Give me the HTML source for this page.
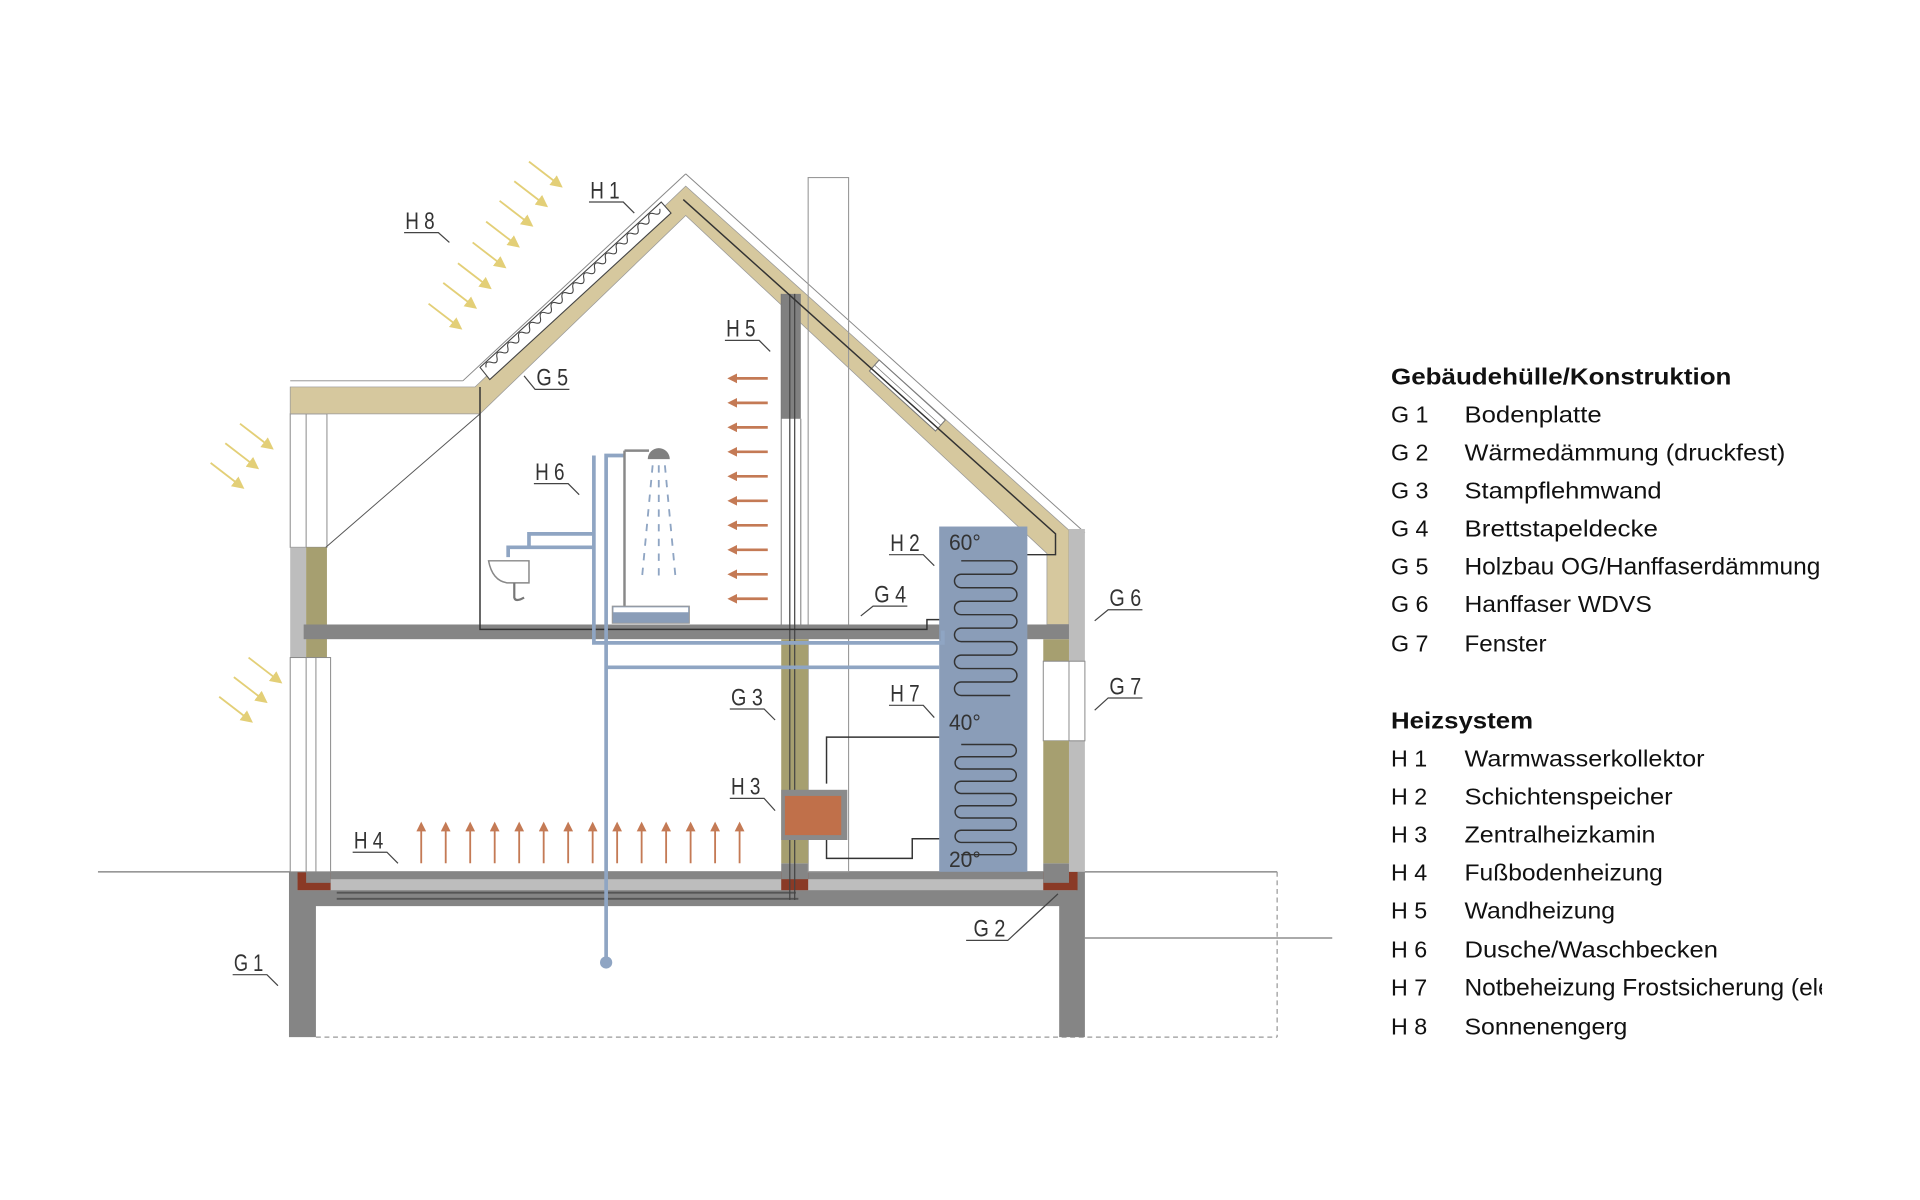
<!DOCTYPE html>
<html><head><meta charset="utf-8"><style>html,body{margin:0;padding:0;background:#fff}svg{display:block}</style></head><body>
<svg width="1920" height="1200" viewBox="0 0 1568 980" xmlns="http://www.w3.org/2000/svg">
<defs>
<clipPath id="lg"><rect x="1100" y="280" width="388" height="600"/></clipPath>
<marker id="ao" markerWidth="8" markerHeight="8" refX="2" refY="4" orient="auto" markerUnits="userSpaceOnUse"><path d="M0,0 L8,4 L0,8 z" fill="#c47a55"/></marker>
<marker id="ay" markerWidth="10" markerHeight="10" refX="8" refY="5" orient="auto" markerUnits="userSpaceOnUse"><path d="M0,0 L10,5 L0,10 z" fill="#e3cf77"/></marker>
</defs>

<line x1="80" y1="712" x2="1043" y2="712" stroke="#777" stroke-width="1"/>
<line x1="1043" y1="712" x2="1043" y2="847" stroke="#999" stroke-width="1" stroke-dasharray="4,3"/>
<line x1="258" y1="847" x2="1043" y2="847" stroke="#999" stroke-width="1" stroke-dasharray="4,3"/>
<line x1="886" y1="766" x2="1088" y2="766" stroke="#777" stroke-width="1"/>

<path d="M236,712 H886 V847 H865 V740 H258 V847 H236 Z" fill="#858585"/>
<rect x="243" y="718" width="636" height="9" fill="#bdbdbd"/>
<rect x="243" y="712" width="27" height="15" fill="#8a3a26"/>
<rect x="250" y="712" width="20" height="9" fill="#858585"/>
<rect x="638" y="712" width="22" height="15" fill="#8a3a26"/>
<rect x="638" y="705" width="22" height="13" fill="#858585"/>
<rect x="852" y="712" width="28" height="15" fill="#8a3a26"/>
<rect x="852" y="705" width="21" height="16" fill="#858585"/>
<path d="M275,729 H650 M275,734 H652" stroke="#555" stroke-width="1.5" fill="none"/>

<rect x="237" y="338" width="30" height="109" fill="#fff" stroke="#888" stroke-width="0.8"/>
<line x1="250" y1="338" x2="250" y2="447" stroke="#888" stroke-width="0.8"/>
<rect x="237" y="447" width="13" height="90" fill="#bdbdbd"/>
<rect x="250" y="447" width="17" height="90" fill="#a69f70"/>
<rect x="237" y="537" width="33" height="175" fill="#fff" stroke="#888" stroke-width="0.8"/>
<line x1="250" y1="537" x2="250" y2="712" stroke="#888" stroke-width="0.8"/>
<line x1="258" y1="537" x2="258" y2="712" stroke="#888" stroke-width="0.8"/>

<line x1="237" y1="311" x2="378" y2="311" stroke="#888" stroke-width="0.8"/>
<line x1="378" y1="311" x2="560" y2="142" stroke="#888" stroke-width="0.8"/>
<line x1="560" y1="142" x2="886" y2="435" stroke="#888" stroke-width="0.8"/>
<path d="M237,316 H388 L560,152 L873,433 V510 H855 V452 L560,176 L392,338 H237 Z" fill="#d6c89e" stroke="#999" stroke-width="0.6"/>
<line x1="266" y1="447" x2="392" y2="338" stroke="#555" stroke-width="0.8"/>
<!-- right roof window strip -->
<path d="M718,294 L772,343 L764,352 L710,303 Z" fill="#fff" stroke="#777" stroke-width="0.8"/>
<line x1="714" y1="298" x2="768" y2="347" stroke="#777" stroke-width="0.6"/>
<!-- collector -->
<path d="M392,300 L540,165 L548,174 L400,310 Z" fill="#fff" stroke="#444" stroke-width="0.9"/>
<g transform="translate(397,300) rotate(-42.4)">
<path d="M0,0 q3,-5 6,0 t6,0 t6,0 t6,0 t6,0 t6,0 t6,0 t6,0 t6,0 t6,0 t6,0 t6,0 t6,0 t6,0 t6,0 t6,0 t6,0 t6,0 t6,0 t6,0 t6,0 t6,0 t6,0 t6,0 t6,0 t6,0 t6,0 t6,0 t6,0 t6,0 t6,0 t6,0" fill="none" stroke="#444" stroke-width="0.9"/>
</g>

<rect x="873" y="432" width="13" height="280" fill="#bdbdbd"/>
<rect x="852" y="522" width="21" height="18" fill="#a69f70"/>
<rect x="852" y="540" width="34" height="65" fill="#fff" stroke="#888" stroke-width="0.8"/>
<line x1="873" y1="540" x2="873" y2="605" stroke="#888" stroke-width="0.8"/>
<rect x="852" y="605" width="21" height="100" fill="#a69f70"/>

<rect x="660" y="145" width="33" height="567" fill="none" stroke="#999" stroke-width="0.9"/>

<rect x="248" y="510" width="625" height="12" fill="#858585"/>

<rect x="638" y="522" width="22" height="183" fill="#a69f70"/>
<rect x="638" y="240" width="16" height="102" fill="#808080"/>
<line x1="638" y1="240" x2="638" y2="510" stroke="#777" stroke-width="0.8"/>
<line x1="654" y1="342" x2="654" y2="510" stroke="#777" stroke-width="0.8"/>
<path d="M645,240 V735 M649,240 V735" stroke="#444" stroke-width="1" fill="none"/>

<path d="M392,316 V514 H757 V506 H770" stroke="#333" stroke-width="1.2" fill="none"/>
<path d="M558,163 L862,436 V453 H775" stroke="#333" stroke-width="1.2" fill="none"/>
<path d="M675,640 V602 H775" stroke="#333" stroke-width="1.2" fill="none"/>
<path d="M675,686 V701 H745 V685 H775" stroke="#333" stroke-width="1.2" fill="none"/>

<rect x="767" y="430" width="72" height="282" fill="#8a9db8"/>
<path d="M785,458 h40 a5,5 0 0 1 0,11 h-40 a5,5 0 0 0 0,11 h40 a5,5 0 0 1 0,11 h-40 a5,5 0 0 0 0,11 h40 a5,5 0 0 1 0,11 h-40 a5,5 0 0 0 0,11 h40 a5,5 0 0 1 0,11 h-40 a5,5 0 0 0 0,11 h40 a5,5 0 0 1 0,11 h-40 a5,5 0 0 0 0,11 h40" fill="none" stroke="#333" stroke-width="1.2"/>
<path d="M785,608 h40 a5,5 0 0 1 0,10 h-40 a5,5 0 0 0 0,10 h40 a5,5 0 0 1 0,10 h-40 a5,5 0 0 0 0,10 h40 a5,5 0 0 1 0,10 h-40 a5,5 0 0 0 0,10 h40 a5,5 0 0 1 0,10 h-40 a5,5 0 0 0 0,10 h40 a5,5 0 0 1 0,10 h-40" fill="none" stroke="#333" stroke-width="1.2"/>
<g font-family="Liberation Sans, sans-serif" font-size="18" fill="#333">
<text x="775" y="449" textLength="26" lengthAdjust="spacingAndGlyphs">60°</text>
<text x="775" y="596" textLength="26" lengthAdjust="spacingAndGlyphs">40°</text>
<text x="775" y="708" textLength="26" lengthAdjust="spacingAndGlyphs">20°</text>
</g>

<rect x="638" y="645" width="54" height="41" fill="#8a8a8a"/>
<rect x="641" y="650" width="46" height="32" fill="#c0704a"/>

<g stroke="#8fa5c3" stroke-width="3" fill="none">
<path d="M495,785 V372 H510"/>
<path d="M495,545 H767"/>
<path d="M485,372 V525 H770 V515"/>
<path d="M432,447 V436 H485"/>
<path d="M415,455 V447 H485"/>
</g>
<circle cx="495" cy="786" r="5" fill="#8fa5c3"/>
<line x1="510" y1="368" x2="510" y2="495" stroke="#888" stroke-width="2"/>
<line x1="510" y1="368" x2="530" y2="368" stroke="#888" stroke-width="2"/>
<path d="M529,375 a9,9 0 0 1 18,0 z" fill="#808080"/>
<g stroke="#8fa5c3" stroke-width="1.5" stroke-dasharray="6,6">
<line x1="533" y1="380" x2="524" y2="475"/><line x1="538" y1="380" x2="538" y2="475"/><line x1="543" y1="380" x2="552" y2="475"/>
</g>
<rect x="500" y="495" width="63" height="14" fill="#8a9db8" stroke="#999" stroke-width="0.8"/>
<rect x="501" y="496" width="61" height="4" fill="#fff"/>
<path d="M399,458 H432 V476 H414 Q402,474 399,458 Z" fill="#fff" stroke="#888" stroke-width="1.2"/>
<path d="M420,476 V488 Q421,492 428,488" fill="none" stroke="#777" stroke-width="1.8"/>

<g stroke="#c47a55" stroke-width="2.2" marker-end="url(#ao)">
<line x1="627" y1="309" x2="600" y2="309"/><line x1="627" y1="329" x2="600" y2="329"/>
<line x1="627" y1="349" x2="600" y2="349"/><line x1="627" y1="369" x2="600" y2="369"/>
<line x1="627" y1="389" x2="600" y2="389"/><line x1="627" y1="409" x2="600" y2="409"/>
<line x1="627" y1="429" x2="600" y2="429"/><line x1="627" y1="449" x2="600" y2="449"/>
<line x1="627" y1="469" x2="600" y2="469"/><line x1="627" y1="489" x2="600" y2="489"/>
</g>
<g stroke="#c47a55" stroke-width="1.5" marker-end="url(#ao)">
<line x1="344" y1="705" x2="344" y2="677"/><line x1="364" y1="705" x2="364" y2="677"/>
<line x1="384" y1="705" x2="384" y2="677"/><line x1="404" y1="705" x2="404" y2="677"/>
<line x1="424" y1="705" x2="424" y2="677"/><line x1="444" y1="705" x2="444" y2="677"/>
<line x1="464" y1="705" x2="464" y2="677"/><line x1="484" y1="705" x2="484" y2="677"/>
<line x1="504" y1="705" x2="504" y2="677"/><line x1="524" y1="705" x2="524" y2="677"/>
<line x1="544" y1="705" x2="544" y2="677"/><line x1="564" y1="705" x2="564" y2="677"/>
<line x1="584" y1="705" x2="584" y2="677"/><line x1="604" y1="705" x2="604" y2="677"/>
</g>

<g stroke="#e3cf77" stroke-width="1.5" marker-end="url(#ay)">
<line x1="432" y1="132" x2="458" y2="152"/><line x1="420" y1="148" x2="446" y2="168"/>
<line x1="408" y1="164" x2="434" y2="184"/><line x1="397" y1="181" x2="423" y2="201"/>
<line x1="386" y1="198" x2="412" y2="218"/><line x1="374" y1="215" x2="400" y2="235"/>
<line x1="362" y1="231" x2="388" y2="251"/><line x1="350" y1="248" x2="376" y2="268"/>
<line x1="196" y1="346" x2="222" y2="366"/><line x1="184" y1="362" x2="210" y2="382"/>
<line x1="172" y1="378" x2="198" y2="398"/>
<line x1="203" y1="537" x2="229" y2="557"/><line x1="191" y1="553" x2="217" y2="573"/>
<line x1="179" y1="569" x2="205" y2="589"/>
</g>

<g font-family="Liberation Sans, sans-serif" font-size="20" fill="#333">
<text x="331" y="187" textLength="24" lengthAdjust="spacingAndGlyphs">H 8</text>
<text x="482" y="162" textLength="24" lengthAdjust="spacingAndGlyphs">H 1</text>
<text x="593" y="275" textLength="24" lengthAdjust="spacingAndGlyphs">H 5</text>
<text x="438" y="315" textLength="26" lengthAdjust="spacingAndGlyphs">G 5</text>
<text x="437" y="392" textLength="24" lengthAdjust="spacingAndGlyphs">H 6</text>
<text x="727" y="450" textLength="24" lengthAdjust="spacingAndGlyphs">H 2</text>
<text x="714" y="492" textLength="26" lengthAdjust="spacingAndGlyphs">G 4</text>
<text x="906" y="495" textLength="26" lengthAdjust="spacingAndGlyphs">G 6</text>
<text x="906" y="567" textLength="26" lengthAdjust="spacingAndGlyphs">G 7</text>
<text x="597" y="576" textLength="26" lengthAdjust="spacingAndGlyphs">G 3</text>
<text x="727" y="573" textLength="24" lengthAdjust="spacingAndGlyphs">H 7</text>
<text x="597" y="649" textLength="24" lengthAdjust="spacingAndGlyphs">H 3</text>
<text x="289" y="693" textLength="24" lengthAdjust="spacingAndGlyphs">H 4</text>
<text x="795" y="765" textLength="26" lengthAdjust="spacingAndGlyphs">G 2</text>
<text x="191" y="793" textLength="24" lengthAdjust="spacingAndGlyphs">G 1</text>
</g>
<g stroke="#444" stroke-width="1" fill="none">
<path d="M330,190 H358 L367,198"/>
<path d="M481,165 H509 L518,174"/>
<path d="M592,278 H620 L629,287"/>
<path d="M465,318 H437 L428,307"/>
<path d="M436,395 H464 L473,404"/>
<path d="M726,453 H754 L763,462"/>
<path d="M741,495 H713 L703,503"/>
<path d="M933,498 H905 L894,507"/>
<path d="M933,570 H905 L894,580"/>
<path d="M596,579 H624 L633,588"/>
<path d="M726,576 H754 L763,586"/>
<path d="M596,652 H624 L633,662"/>
<path d="M288,696 H316 L325,705"/>
<path d="M789,768 H823 L864,730"/>
<path d="M190,796 H218 L227,805"/>
</g>

<g clip-path="url(#lg)" font-family="Liberation Sans, sans-serif" fill="#111">
<text x="1136" y="314" font-size="19" font-weight="bold" textLength="278" lengthAdjust="spacingAndGlyphs">Gebäudehülle/Konstruktion</text>
<g font-size="19">
<text x="1136" y="345">G 1</text><text x="1196" y="345" textLength="112" lengthAdjust="spacingAndGlyphs">Bodenplatte</text>
<text x="1136" y="376">G 2</text><text x="1196" y="376" textLength="262" lengthAdjust="spacingAndGlyphs">Wärmedämmung (druckfest)</text>
<text x="1136" y="407">G 3</text><text x="1196" y="407" textLength="161" lengthAdjust="spacingAndGlyphs">Stampflehmwand</text>
<text x="1136" y="438">G 4</text><text x="1196" y="438" textLength="158" lengthAdjust="spacingAndGlyphs">Brettstapeldecke</text>
<text x="1136" y="469">G 5</text><text x="1196" y="469" font-size="20">Holzbau OG/Hanffaserdämmung</text>
<text x="1136" y="500">G 6</text><text x="1196" y="500" textLength="153" lengthAdjust="spacingAndGlyphs">Hanffaser WDVS</text>
<text x="1136" y="532">G 7</text><text x="1196" y="532" textLength="67" lengthAdjust="spacingAndGlyphs">Fenster</text>
</g>
<text x="1136" y="595" font-size="19" font-weight="bold" textLength="116" lengthAdjust="spacingAndGlyphs">Heizsystem</text>
<g font-size="19">
<text x="1136" y="626">H 1</text><text x="1196" y="626" textLength="196" lengthAdjust="spacingAndGlyphs">Warmwasserkollektor</text>
<text x="1136" y="657">H 2</text><text x="1196" y="657" textLength="170" lengthAdjust="spacingAndGlyphs">Schichtenspeicher</text>
<text x="1136" y="688">H 3</text><text x="1196" y="688" textLength="156" lengthAdjust="spacingAndGlyphs">Zentralheizkamin</text>
<text x="1136" y="719">H 4</text><text x="1196" y="719" textLength="162" lengthAdjust="spacingAndGlyphs">Fußbodenheizung</text>
<text x="1136" y="750">H 5</text><text x="1196" y="750" textLength="123" lengthAdjust="spacingAndGlyphs">Wandheizung</text>
<text x="1136" y="782">H 6</text><text x="1196" y="782" textLength="207" lengthAdjust="spacingAndGlyphs">Dusche/Waschbecken</text>
<text x="1136" y="813">H 7</text><text x="1196" y="813" font-size="20">Notbeheizung Frostsicherung (elektr.)</text>
<text x="1136" y="845">H 8</text><text x="1196" y="845" textLength="133" lengthAdjust="spacingAndGlyphs">Sonnenengerg</text>
</g>
</g>
</svg>
</body></html>
